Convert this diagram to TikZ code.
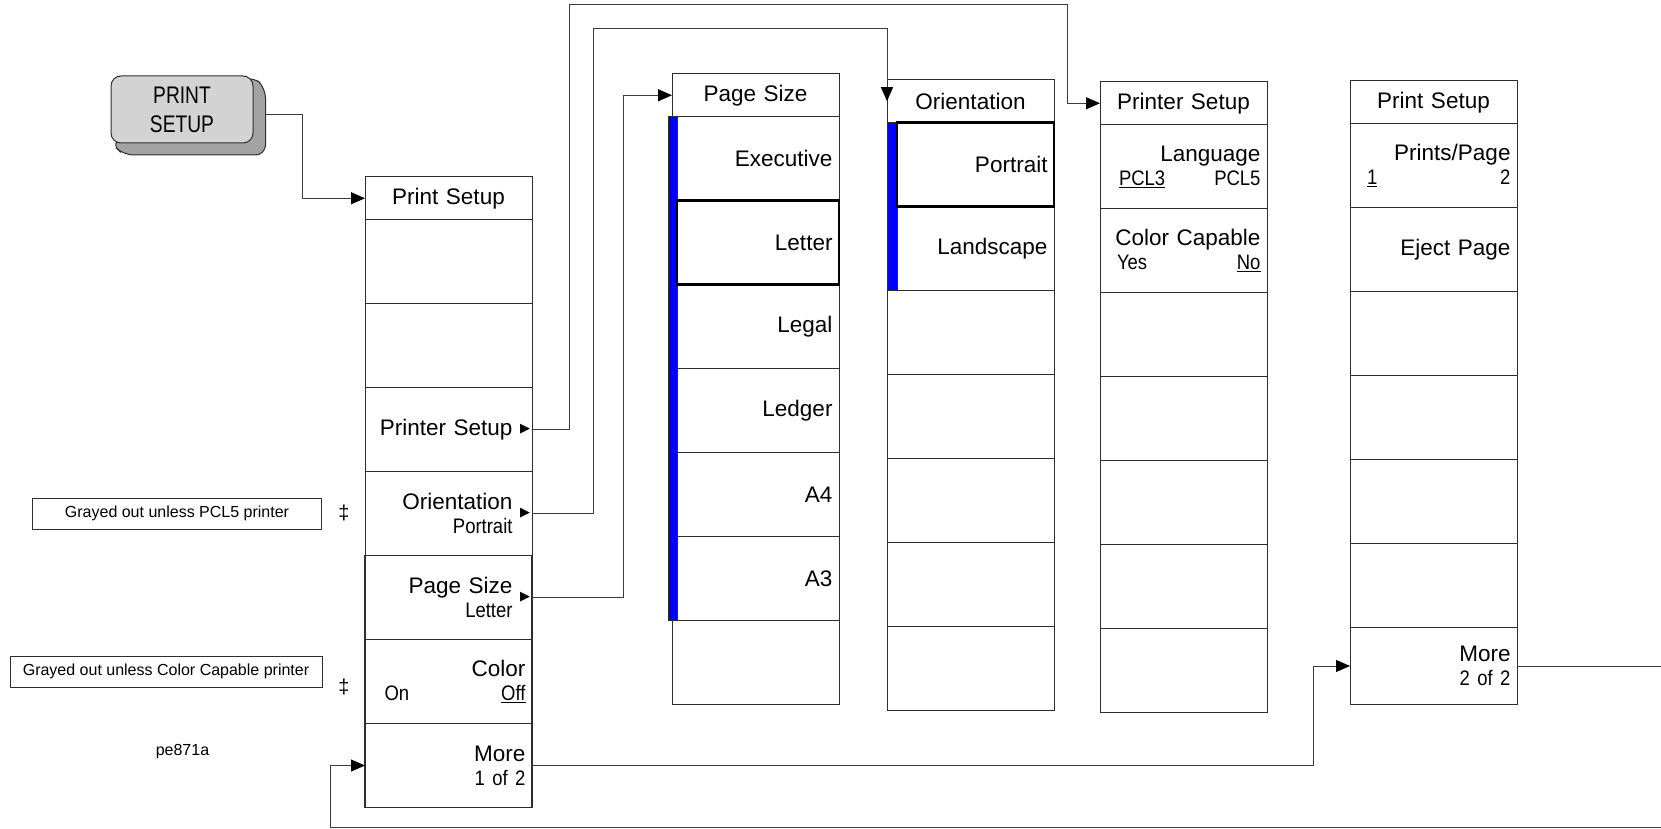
\documentclass[tikz,border=0pt]{standalone}
\usepackage{fontspec}
\setmainfont{Liberation Sans}
\newfontfamily\keyfont{Liberation Sans}
\newfontfamily\subfont{Liberation Sans}[FakeStretch=0.88]
\newfontfamily\hardfont{Liberation Sans}[FakeStretch=0.8]
\newfontfamily\symfont{DejaVu Sans}
\usetikzlibrary{arrows.meta, positioning}
\definecolor{keyface}{HTML}{D3D3D3}
\definecolor{keydark}{HTML}{A3A3A3}
\definecolor{boxline}{HTML}{2E2E2E}
\definecolor{linkline}{HTML}{3C3C3C}
\definecolor{selblue}{HTML}{0000FF}
\newcommand{\subtext}[1]{{\subfont\fontsize{21}{24}\selectfont #1}}
\tikzset{
  softkey/.style={
    draw=boxline,
    line width=1pt,
    fill=white,
    minimum width=167pt,
    minimum height=84pt,
    text width=154pt,
    align=right,
    inner sep=0pt,
    outer sep=0pt,
    font=\keyfont\fontsize{22.5}{24}\selectfont
  },
  boldkey/.style={
    softkey,
    line width=1.5pt
  },
  menuhead/.style={
    softkey,
    minimum height=42.5pt,
    align=center
  },
  hardkey/.style={
    draw=boxline,
    line width=1pt,
    fill=keyface,
    rounded corners=10pt,
    minimum width=142pt,
    minimum height=67pt,
    inner sep=0pt,
    outer sep=0pt,
    align=center,
    font=\hardfont\fontsize{24}{29}\selectfont
  },
  hardback/.style={
    minimum width=142pt,
    minimum height=67pt,
    inner sep=0pt,
    outer sep=0pt
  },
  note/.style={
    draw=boxline,
    line width=1pt,
    minimum width=289pt,
    minimum height=31pt,
    inner sep=0pt,
    font=\fontsize{16}{19}\selectfont
  },
  notemark/.style={
    inner sep=0pt,
    font=\fontsize{20}{22}\selectfont
  },
  figid/.style={
    inner sep=0pt,
    font=\fontsize{16}{19}\selectfont
  },
  submark/.style={
    inner sep=0pt,
    font=\symfont\fontsize{13}{13}\selectfont
  },
  selbar/.style={
    fill=selblue,
    draw=boxline,
    line width=0.5pt
  },
  current/.style={
    draw=black,
    line width=2.5pt
  },
  link/.style={
    -{Triangle[length=14pt,width=12pt,color=black]},
    line width=1pt,
    draw=linkline
  }
}

\begin{document}
\begin{tikzpicture}[x=1pt,y=-1pt]

\path[use as bounding box, fill=white] (0,0) rectangle (1661,829);

% hardkey
\node[hardback] (keyback) at (194.5,121.5) {};
\draw[boxline, line width=1pt, fill=keydark, rounded corners=10pt]
  (182,109.5) ++(-71,33.5) -- (keyback.south west) -- (keyback.south east)
  -- (keyback.north east) -- (253,76) -- cycle;
\node[hardkey] (key) at (182,109.5) {PRINT\\SETUP};

% first menu
\node[menuhead, anchor=north west] (lh) at (365,177) {Print Setup};
\node[softkey, below=0pt of lh] (l1) {};
\node[softkey, below=0pt of l1] (l2) {};
\node[softkey, below=0pt of l2] (l3) {Printer Setup\kern13pt};
\node[softkey, below=0pt of l3] (l4) {Orientation\kern13pt\\\subtext{Portrait\kern13pt}};
\node[boldkey, below=0pt of l4] (l5) {Page Size\kern13pt\\\subtext{Letter\kern13pt}};
\node[boldkey, below=0pt of l5] (l6) {Color\\\subtext{\makebox[154pt]{\kern13pt On\hfill\underline{Off}}}};
\node[boldkey, below=0pt of l6] (l7) {More\\\subtext{1 of 2}};

\node[submark] at ([xshift=-7pt]l3.east) {▶};
\node[submark] at ([xshift=-7pt]l4.east) {▶};
\node[submark] at ([xshift=-7pt]l5.east) {▶};

% page size menu
\node[menuhead, anchor=north west] (gh) at (672,74) {Page Size};
\node[softkey, below=0pt of gh] (g1) {Executive};
\node[softkey, below=0pt of g1] (g2) {Letter};
\node[softkey, below=0pt of g2] (g3) {Legal};
\node[softkey, below=0pt of g3] (g4) {Ledger};
\node[softkey, below=0pt of g4] (g5) {A4};
\node[softkey, below=0pt of g5] (g6) {A3};
\node[softkey, below=0pt of g6] (g7) {};

\filldraw[selbar] ([xshift=-4pt]g1.north west) rectangle ([xshift=5pt]g6.south west);
\draw[current] ([xshift=5pt]g2.north west) rectangle (g2.south east);

% orientation menu
\node[menuhead, anchor=north west] (oh) at (887,80) {Orientation};
\node[softkey, below=0pt of oh] (o1) {Portrait};
\node[softkey, below=0pt of o1] (o2) {Landscape};
\node[softkey, below=0pt of o2] (o3) {};
\node[softkey, below=0pt of o3] (o4) {};
\node[softkey, below=0pt of o4] (o5) {};
\node[softkey, below=0pt of o5] (o6) {};
\node[softkey, below=0pt of o6] (o7) {};

\filldraw[selbar] (o1.north west) rectangle ([xshift=10pt]o2.south west);
\draw[current] ([xshift=10pt]o1.north west) rectangle (o1.south east);

% printer setup menu
\node[menuhead, anchor=north west] (rh) at (1100,82) {Printer Setup};
\node[softkey, below=0pt of rh] (r1) {Language\\\subtext{\makebox[154pt]{\kern12.5pt\underline{PCL3}\hfill PCL5}}};
\node[softkey, below=0pt of r1] (r2) {Color Capable\\\subtext{\makebox[154pt]{\kern10.5pt Yes\hfill\underline{No}}}};
\node[softkey, below=0pt of r2] (r3) {};
\node[softkey, below=0pt of r3] (r4) {};
\node[softkey, below=0pt of r4] (r5) {};
\node[softkey, below=0pt of r5] (r6) {};
\node[softkey, below=0pt of r6] (r7) {};

% second print setup page
\node[menuhead, anchor=north west] (sh) at (1350,81) {Print Setup};
\node[softkey, below=0pt of sh] (s1) {Prints/Page\\\subtext{\makebox[154pt]{\kern10.5pt\underline{1}\hfill 2}}};
\node[softkey, below=0pt of s1] (s2) {Eject Page};
\node[softkey, below=0pt of s2] (s3) {};
\node[softkey, below=0pt of s3] (s4) {};
\node[softkey, below=0pt of s4] (s5) {};
\node[softkey, below=0pt of s5] (s6) {};
\node[softkey, below=0pt of s6, minimum height=77pt] (s7) {More\\\subtext{2 of 2}};

% notes
\node[note] (pclnote) at (177,513.5) {Grayed out unless PCL5 printer};
\node[notemark] (pclmark) at (344,513) {‡};
\node[note, minimum width=312pt] (colornote) at (166,671.5) {Grayed out unless Color Capable printer};
\node[notemark] (colormark) at (344,687) {‡};
\node[figid] (figname) at (182.5,752) {pe871a};

% routing points
\coordinate (railK) at (302,115);
\coordinate (railA) at (569,5);
\coordinate (railA2) at (1067,5);
\coordinate (railB) at (593,29);
\coordinate (railB2) at (887,29);
\coordinate (railC) at (623,0);
\coordinate (railD) at (1313,0);
\coordinate (railE) at (1668,827);
\coordinate (railF) at (330,0);

\draw[link] (railK -| keyback.east) -- (railK) |- (lh.west);
\draw[link] (l3.east) -| (railA) -- (railA2) |- (rh.west);
\draw[link] (l4.east) -| (railB) -- (railB2) -- (oh.west);
\draw[link] (l5.east) -| (railC |- gh.west) -- (gh.west);
\draw[link] (l7.east) -| (railD |- s7.west) -- (s7.west);
\draw[link] (s7.east) -| (railE) -| (railF |- l7.west) -- (l7.west);

\end{tikzpicture}
\end{document}
